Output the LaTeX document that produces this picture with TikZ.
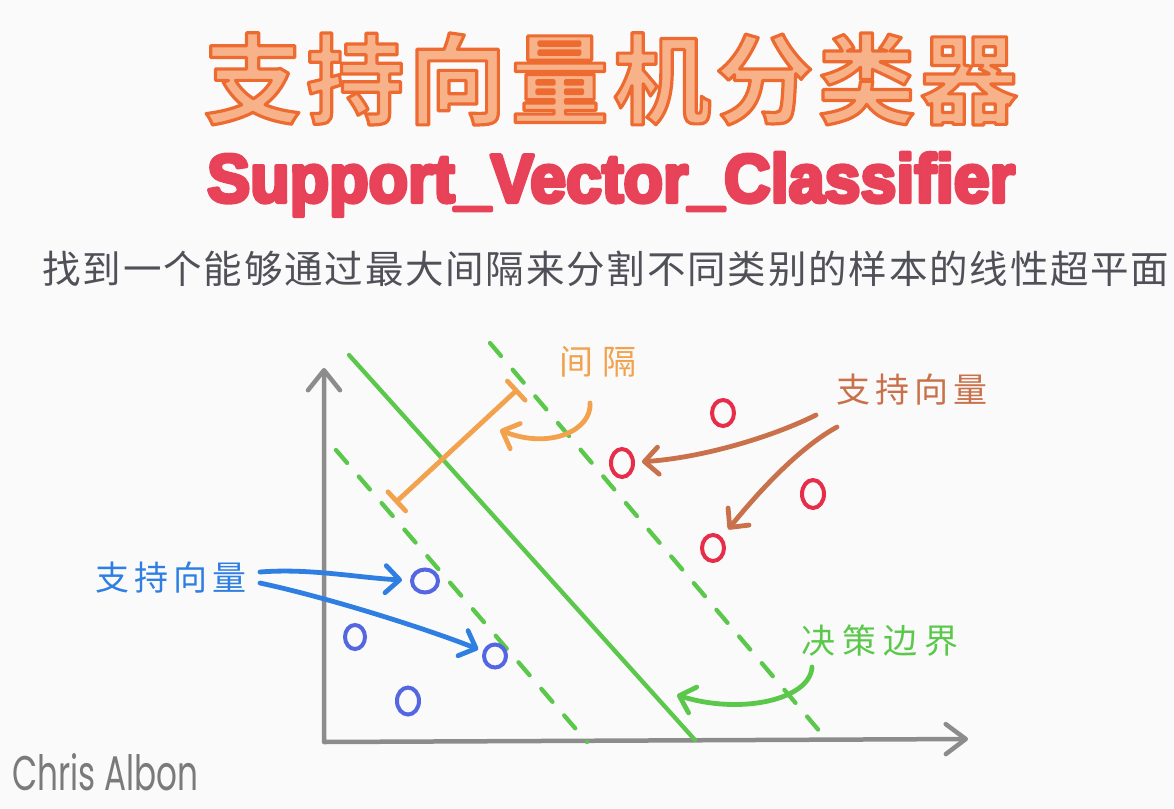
\documentclass[tikz,border=0pt]{standalone}
\usepackage{fontspec}
\setmainfont{Liberation Sans}
\newfontfamily\cjk{Noto Sans CJK SC}[BoldFont={Noto Sans CJK SC Bold}]
\newfontfamily\handfont{Poppins}
\usetikzlibrary{arrows.meta,shapes.geometric}
\definecolor{bgc}{HTML}{FAFAFB}
\definecolor{titlefill}{HTML}{F7B28A}
\definecolor{subred}{HTML}{E8435A}
\definecolor{sentgray}{HTML}{505058}
\definecolor{axisgray}{HTML}{8C8C8C}
\definecolor{lgreen}{HTML}{5BC84B}
\definecolor{ptred}{HTML}{E62E4A}
\definecolor{ptblue}{HTML}{5466E0}
\definecolor{arrblue}{HTML}{2F7FE2}
\definecolor{arrbrown}{HTML}{C8714A}
\definecolor{arrorange}{HTML}{F2A24C}
\definecolor{signgray}{HTML}{7A7A7A}
\newcommand\pdfstrokeon[2]{\special{pdf:literal direct #1 RG #2 w 1 j 2 Tr}}
\newcommand\pdfstrokeoff{\special{pdf:literal direct 0 Tr}}
% spread the characters of #2 evenly over a box of width #1
\newcommand\spread[2]{\makebox[#1][s]{\spreadA#2\relax}}
\def\spreadA#1{\ifx#1\relax\unskip\else#1\hfil\expandafter\spreadA\fi}
\begin{document}
\begin{tikzpicture}[x=1pt,y=-1pt,
  axis/.style={draw=axisgray,line width=4.5pt,line cap=round,line join=round},
  hyper/.style={draw=lgreen,line width=4.3pt,line cap=round},
  marginline/.style={hyper,dash pattern=on 17pt off 18pt},
  pt/.style={ellipse,line width=4pt,minimum width=22pt,minimum height=26pt,inner sep=0pt},
  redpt/.style={pt,draw=ptred},
  bluept/.style={pt,draw=ptblue},
  lab/.style={font=\cjk\fontsize{34}{38}\selectfont,inner sep=0pt},
  pointer/.style={line width=4.8pt,line cap=round,line join=round,
    -{Straight Barb[length=14pt,width=27pt,round]}},
]
\fill[bgc] (0,0) rectangle (1174,808);
\useasboundingbox (0,0) rectangle (1174,808);

% titles
\node[inner sep=0pt,text=titlefill,font=\cjk\bfseries\fontsize{98}{100}\selectfont] (title) at (611,79)
  {\pdfstrokeon{0.93 0.42 0.19}{3.2}\spread{814pt}{支持向量机分类器}\pdfstrokeoff};
\node[inner sep=0pt,anchor=base,text=subred,font=\bfseries\fontsize{68}{72}\selectfont] (subtitle) at (611,202)
  {\scalebox{0.95}[1]{\pdfstrokeon{0.91 0.26 0.35}{4}Support\_Vector\_Classifier\pdfstrokeoff}};
\node[inner sep=0pt,text=sentgray,font=\cjk\fontsize{38.5}{42}\selectfont] (sentence) at (606,269)
  {\spread{1127pt}{找到一个能够通过最大间隔来分割不同类别的样本的线性超平面}};
\node[inner sep=0pt,anchor=base west,text=signgray,font=\handfont] (sign) at (12,790)
  {\resizebox{186pt}{37pt}{Chris Albon}};

% axes
\coordinate (O) at (324,742);
\coordinate (Ytip) at (324,368);
\coordinate (Xtip) at (968,739);
\draw[axis,{Straight Barb[length=20pt,width=32pt,round]}-{Straight Barb[length=20pt,width=30pt,round]}]
  (Ytip) -- (O) -- (Xtip);

% hyperplane and margins
\coordinate (dbA) at (349,355); \coordinate (dbB) at (695,740);
\coordinate (mgUA) at (490,343); \coordinate (mgUB) at (827,740);
\coordinate (mgLA) at (336,450); \coordinate (mgLB) at (587,742);
\draw[hyper] (dbA) -- (dbB);
\draw[marginline] (mgUA) -- (mgUB);
\draw[marginline] (mgLA) -- (mgLB);

% margin width
\coordinate (gapA) at (395,503); \coordinate (gapB) at (518,389);
\draw[draw=arrorange,line width=4.8pt,line cap=round,{Bar[width=26pt,round]}-{Bar[width=26pt,round]}] (gapA) -- (gapB);

% points
\node[redpt] (r1) at (723,413) {};
\node[redpt,minimum height=28pt] (r2) at (622,463) {};
\node[redpt,minimum height=28pt] (r3) at (813,494) {};
\node[redpt] (r4) at (713,548) {};
\node[bluept,minimum width=26pt,minimum height=23pt] (b1) at (425,581) {};
\node[bluept,minimum height=23pt] (b2) at (495,656) {};
\node[bluept,minimum width=20pt,minimum height=24pt] (b3) at (355,637) {};
\node[bluept,minimum height=27pt] (b4) at (408,701) {};

% labels
\node[lab,text=arrorange] (gap) at (598,362) {\spread{77pt}{间隔}};
\node[lab,text=arrbrown] (svr) at (912,390) {\spread{152pt}{支持向量}};
\node[lab,text=arrblue] (svb) at (171,578) {\spread{151pt}{支持向量}};
\node[lab,text=lgreen] (db) at (880,641) {\spread{157pt}{决策边界}};

% pointers
\coordinate (gapS) at (590,403); \coordinate (gapT) at (500,430);
\draw[pointer,draw=arrorange] (gapS) .. controls (592,430) and (550,450) .. (gapT);
\coordinate (svrS1) at (816,415); \coordinate (svrS2) at (837,427);
\draw[pointer,draw=arrbrown,shorten >=7pt] (svrS1) .. controls (770,438) and (700,458) .. (r2);
\draw[pointer,draw=arrbrown,shorten >=10pt] (svrS2) .. controls (795,450) and (752,500) .. (r4);
\coordinate (svbS1) at (260,572); \coordinate (svbS2) at (260,583);
\draw[pointer,draw=arrblue,shorten >=8pt] (svbS1) .. controls (310,568) and (360,578) .. (b1);
\draw[pointer,draw=arrblue,shorten >=5pt] (svbS2) .. controls (330,598) and (430,630) .. (b2);
\coordinate (dbS) at (812,667); \coordinate (dbT) at (677,695);
\draw[pointer,draw=lgreen] (dbS) .. controls (810,700) and (740,715) .. (dbT);
\end{tikzpicture}
\end{document}
